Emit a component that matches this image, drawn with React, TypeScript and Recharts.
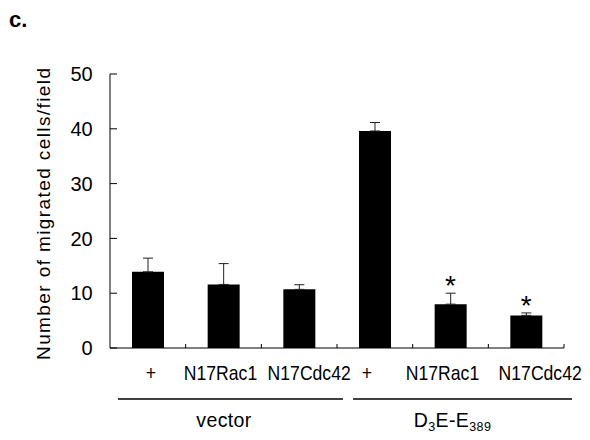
import { ComposedChart, Bar, ErrorBar, Scatter, XAxis, YAxis } from "recharts";

const CATEGORIES = ["+", "N17Rac1", "N17Cdc42", "+", "N17Rac1", "N17Cdc42"];
const MEANS = [13.9, 11.6, 10.7, 39.6, 8.0, 5.95];
const ERRORS = [2.5, 3.8, 0.85, 1.55, 2.0, 0.45];
const SIGNIFICANT = [false, false, false, false, true, true];
const GROUP_LABELS = ["vector", "D_3E-E_389"];
const GROUP_SIZES = [3, 3];
const Y_TICKS = [0, 10, 20, 30, 40, 50];

const FONT = '"Liberation Sans", Arial, sans-serif';
const CHART_W = 590;
const CHART_H = 440;
const MARGIN = { top: 74, right: 26, left: 0, bottom: 0 };
const YAXIS_W = 110;
const BAND = (CHART_W - MARGIN.left - MARGIN.right - YAXIS_W) / CATEGORIES.length;

// the source labels sit a little off the band centres
const LABEL_NUDGE = [3, -3, 10, -8, -8, 14];
const GROUP_LINE_PAD = [
  [8, 6],
  [16, 8],
];
const GROUP_LABEL_NUDGE = [0.5, 2];

const chartData = CATEGORIES.map((name, i) => ({
  key: `c${i}`,
  name,
  mean: MEANS[i],
  err: [0, ERRORS[i]],
  star: SIGNIFICANT[i] ? MEANS[i] + ERRORS[i] : null,
}));

const groupStarts = GROUP_SIZES.map((_, g) =>
  GROUP_SIZES.slice(0, g).reduce((a, b) => a + b, 0)
);

// "D_3E-E_389" -> D, sub 3, E-E, sub 389
function GroupLabel({ text, x, y }: { text: string; x: number; y: number }) {
  const parts = text.split(/_(\d+)/);
  let sub = false;
  return (
    <text x={x} y={y} textAnchor="middle" fontSize={19.5} letterSpacing={0.4} fill="#000" fontFamily={FONT}>
      {parts.map((p, i) => {
        const isSub = i % 2 === 1;
        const dy = isSub && !sub ? 4 : !isSub && sub ? -4 : 0;
        sub = isSub;
        return (
          <tspan key={i} dy={dy} fontSize={isSub ? 12.5 : 19.5}>
            {p}
          </tspan>
        );
      })}
    </text>
  );
}

function XTick(props: any) {
  const { x, y, index, payload } = props;
  const half = payload && payload.offset > 0 ? payload.offset : BAND / 2;
  const g = groupStarts.indexOf(index);
  let group = null;
  if (g >= 0) {
    const start = x - half;
    const end = start + GROUP_SIZES[g] * half * 2;
    group = (
      <g>
        <line
          x1={start + GROUP_LINE_PAD[g][0]}
          x2={end + GROUP_LINE_PAD[g][1]}
          y1={y + 51}
          y2={y + 51}
          stroke="#000"
          strokeWidth={1.4}
        />
        <GroupLabel text={GROUP_LABELS[g]} x={(start + end) / 2 + GROUP_LABEL_NUDGE[g]} y={y + 79} />
      </g>
    );
  }
  const lx = x + LABEL_NUDGE[index];
  return (
    <g>
      <line x1={x + half} x2={x + half} y1={y} y2={y - 4} stroke="#000" strokeWidth={1} />
      <text
        transform={`translate(${lx}, ${y + 32}) scale(0.88, 1)`}
        textAnchor="middle"
        fontSize={20}
        fill="#000"
        fontFamily={FONT}
      >
        {CATEGORIES[index]}
      </text>
      {group}
    </g>
  );
}

function YTick(props: any) {
  const { x, y, payload } = props;
  return (
    <g>
      <line x1={x} x2={x + 7} y1={y} y2={y} stroke="#000" strokeWidth={1} />
      <text x={x - 17.3} y={y + 7.2} textAnchor="end" fontSize={20} fill="#000" fontFamily={FONT}>
        {payload.value}
      </text>
    </g>
  );
}

function YTitle(props: any) {
  const { viewBox } = props;
  const cy = viewBox.y + viewBox.height / 2 + 3;
  const cx = 50;
  return (
    <text
      x={cx}
      y={cy}
      transform={`rotate(-90, ${cx}, ${cy})`}
      textAnchor="middle"
      fontSize={19}
      textLength={292}
      lengthAdjust="spacing"
      fill="#000"
      fontFamily={FONT}
    >
      Number of migrated cells/field
    </text>
  );
}

function Star(props: any) {
  const { cx, cy, payload } = props;
  if (!payload || payload.star == null || !Number.isFinite(cy)) return <g />;
  return (
    <text x={cx} y={cy + 2} textAnchor="middle" fontSize={28} fill="#000" fontFamily={FONT}>
      *
    </text>
  );
}

export default function App() {
  return (
    <div
      style={{
        position: "absolute",
        left: 0,
        top: 0,
        width: CHART_W,
        height: CHART_H,
        background: "#fff",
        fontFamily: FONT,
      }}
    >
      <svg
        width={CHART_W}
        height={CHART_H}
        style={{ position: "absolute", left: 0, top: 0, pointerEvents: "none" }}
      >
        <text x={9} y={27} fontSize={22} fontWeight="bold" fill="#000" fontFamily={FONT}>
          c.
        </text>
      </svg>
      <ComposedChart width={CHART_W} height={CHART_H} data={chartData} margin={MARGIN}>
        <XAxis
          dataKey="key"
          height={92}
          axisLine={{ stroke: "#000", strokeWidth: 1 }}
          tickLine={false}
          tickSize={0}
          tickMargin={0}
          interval={0}
          tick={<XTick />}
        />
        <YAxis
          width={YAXIS_W}
          domain={[0, 50]}
          ticks={Y_TICKS}
          interval={0}
          axisLine={{ stroke: "#000", strokeWidth: 1 }}
          tickLine={false}
          tickSize={0}
          tickMargin={0}
          tick={<YTick />}
          label={<YTitle />}
        />
        <Bar dataKey="mean" fill="#000" barSize={32} isAnimationActive={false}>
          <ErrorBar dataKey="err" width={5} stroke="#222" strokeWidth={1} direction="y" />
        </Bar>
        <Scatter dataKey="star" shape={<Star />} isAnimationActive={false} />
      </ComposedChart>
    </div>
  );
}
